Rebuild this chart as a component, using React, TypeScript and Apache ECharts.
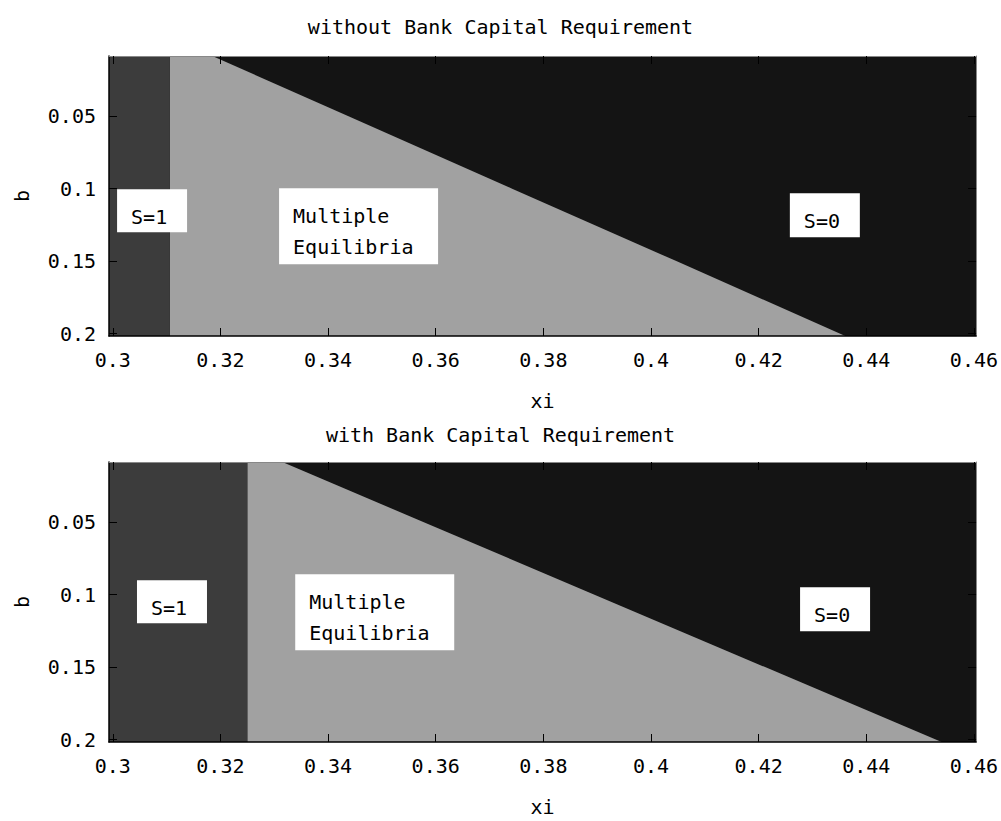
import React, { useEffect, useRef } from 'react';
import * as echarts from 'echarts';

// ---- data ----
const xiTicks = [0.3, 0.32, 0.34, 0.36, 0.38, 0.4, 0.42, 0.44, 0.46];
const bTicks = [0.05, 0.1, 0.15, 0.2];
const xiRange = [0.2993, 0.4604];
const bRange = [0.0084, 0.2017];

const panelTitles = ['without Bank Capital Requirement', 'with Bank Capital Requirement'];

// b values at which the S=0 / multiple-equilibria boundary was read
const bBoundary = [0.0084, 0.05, 0.1, 0.15, 0.2017];
const xiBoundaryWithout = [0.3185, 0.3438, 0.3742, 0.4047, 0.4361];
const xiBoundaryWith = [0.3315, 0.3578, 0.3895, 0.4212, 0.454];
// xi where the S=1 region ends
const xiS1EdgeWithout = 0.3106;
const xiS1EdgeWith = 0.325;

const annotationTexts = ['S=1', 'Multiple\nEquilibria', 'S=0'];
const annotationXiWithout = [0.3008, 0.3309, 0.4258];
const annotationBWithout = [0.1004, 0.0997, 0.1031];
const annotationXiWith = [0.3045, 0.3339, 0.4277];
const annotationBWith = [0.0901, 0.0859, 0.0949];

// ---- styles ----
const FONT = 'DejaVu Sans Mono';
const FS = 20;
const REGION_COLORS = ['#141414', '#a1a1a1', '#3c3c3c']; // S=0, multiple, S=1
const BOX_SIZES = [
  [70, 43],
  [159, 76],
  [70, 44],
];

const fmt = (v: number) => String(Number(v.toFixed(4)));

function regionSeries(g: number, xiS1: number, xiDiag: number[]) {
  return {
    type: 'custom',
    xAxisIndex: 2 * g,
    yAxisIndex: 2 * g,
    clip: true,
    z: 1,
    silent: true,
    encode: { x: 0, y: 1 },
    data: [
      [xiRange[0], bRange[0], 0],
      [xiS1, bRange[0], 1],
      [xiRange[0], bRange[0], 2],
    ],
    renderItem: (params: any, api: any) => {
      const id = params.dataIndex;
      let pts: number[][];
      if (id === 0) {
        pts = [
          [xiRange[0], bRange[0]],
          [xiRange[1], bRange[0]],
          [xiRange[1], bRange[1]],
          [xiRange[0], bRange[1]],
        ];
      } else if (id === 1) {
        pts = [[xiS1, bBoundary[0]]];
        bBoundary.forEach((b, i) => pts.push([xiDiag[i], b]));
        pts.push([xiS1, bBoundary[bBoundary.length - 1]]);
      } else {
        pts = [
          [xiRange[0], bRange[0]],
          [xiS1, bRange[0]],
          [xiS1, bRange[1]],
          [xiRange[0], bRange[1]],
        ];
      }
      return {
        type: 'polygon',
        shape: { points: pts.map((p) => api.coord(p)) },
        style: { fill: REGION_COLORS[id], stroke: null },
      };
    },
  };
}

function annotationSeries(g: number, xis: number[], bs: number[]) {
  return {
    type: 'custom',
    xAxisIndex: 2 * g,
    yAxisIndex: 2 * g,
    clip: false,
    z: 10,
    silent: true,
    encode: { x: 0, y: 1 },
    data: xis.map((x, i) => [x, bs[i], i]),
    renderItem: (params: any, api: any) => {
      const i = params.dataIndex;
      const [px, py] = api.coord([api.value(0), api.value(1)]);
      const [w, h] = BOX_SIZES[i];
      return {
        type: 'group',
        children: [
          { type: 'rect', shape: { x: px, y: py, width: w, height: h }, style: { fill: '#ffffff' } },
          {
            type: 'text',
            x: px + 14,
            y: py + 27.5 - 15.75,
            style: {
              text: annotationTexts[i],
              fontFamily: FONT,
              fontSize: FS,
              lineHeight: 31.5,
              fill: '#000',
              verticalAlign: 'top',
              align: 'left',
            },
          },
        ],
      };
    },
  };
}

function xAxes(g: number) {
  const common = {
    type: 'value',
    gridIndex: g,
    min: xiRange[0],
    max: xiRange[1],
    z: 5,
    splitLine: { show: false },
  };
  return [
    {
      ...common,
      position: 'bottom',
      name: 'xi',
      nameLocation: 'middle',
      nameGap: 55,
      nameTextStyle: { fontFamily: FONT, fontSize: FS, color: '#000' },
      axisLine: { show: true, onZero: false, lineStyle: { color: '#000', width: 1.5 } },
      axisTick: { show: true, inside: true, length: 8, customValues: xiTicks, lineStyle: { color: '#000' } },
      axisLabel: {
        show: true,
        customValues: xiTicks,
        formatter: fmt,
        fontFamily: FONT,
        fontSize: FS,
        color: '#000',
        margin: 14,
      },
    },
    {
      ...common,
      position: 'top',
      axisLine: { show: true, onZero: false, lineStyle: { color: '#888', width: 1 } },
      axisTick: { show: true, inside: true, length: 8, customValues: xiTicks, lineStyle: { color: '#000' } },
      axisLabel: { show: false },
    },
  ];
}

function yAxes(g: number) {
  const common = {
    type: 'value',
    gridIndex: g,
    min: bRange[0],
    max: bRange[1],
    inverse: true,
    z: 5,
    splitLine: { show: false },
  };
  return [
    {
      ...common,
      position: 'left',
      name: 'b',
      nameLocation: 'middle',
      nameRotate: 90,
      nameGap: 77,
      nameTextStyle: { fontFamily: FONT, fontSize: FS, color: '#000' },
      axisLine: { show: true, onZero: false, lineStyle: { color: '#000', width: 1.5 } },
      axisTick: { show: true, inside: true, length: 8, customValues: bTicks, lineStyle: { color: '#000' } },
      axisLabel: {
        show: true,
        customValues: bTicks,
        formatter: fmt,
        fontFamily: FONT,
        fontSize: FS,
        color: '#000',
        margin: 13,
      },
    },
    {
      ...common,
      position: 'right',
      axisLine: { show: true, onZero: false, lineStyle: { color: '#888', width: 1 } },
      axisTick: { show: true, inside: true, length: 8, customValues: bTicks, lineStyle: { color: '#000' } },
      axisLabel: { show: false },
    },
  ];
}

export default function App() {
  const ref = useRef<HTMLDivElement>(null);
  useEffect(() => {
    if (!ref.current) return;
    const chart = echarts.init(ref.current, null, { renderer: 'svg' });
    const titleStyle = { fontFamily: FONT, fontSize: FS, fontWeight: 'normal', color: '#000' };
    chart.setOption({
      animation: false,
      backgroundColor: '#ffffff',
      title: [
        { text: panelTitles[0], left: 'center', top: 12, textStyle: titleStyle },
        { text: panelTitles[1], left: 'center', top: 420, textStyle: titleStyle },
      ],
      grid: [
        { left: 109, top: 56, width: 871, height: 280 },
        { left: 109, top: 462, width: 871, height: 280 },
      ],
      xAxis: [...xAxes(0), ...xAxes(1)],
      yAxis: [...yAxes(0), ...yAxes(1)],
      series: [
        regionSeries(0, xiS1EdgeWithout, xiBoundaryWithout),
        regionSeries(1, xiS1EdgeWith, xiBoundaryWith),
        annotationSeries(0, annotationXiWithout, annotationBWithout),
        annotationSeries(1, annotationXiWith, annotationBWith),
      ],
    });
    return () => chart.dispose();
  }, []);
  return (
    <div
      ref={ref}
      style={{ position: 'absolute', left: 0, top: 0, width: 1001, height: 821, background: '#fff' }}
    />
  );
}
